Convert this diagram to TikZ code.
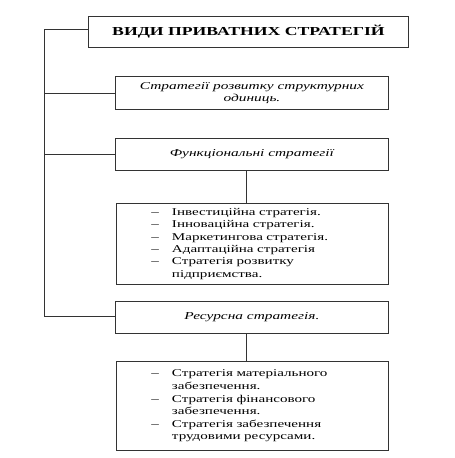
\documentclass[tikz,border=0pt]{standalone}
\usepackage{fontspec}
\setmainfont[FakeStretch=1.45]{Liberation Serif}
\begin{document}
\begin{tikzpicture}[x=1pt,y=-1pt,
  box/.style={draw=black!80,line width=0.9pt,minimum width=273pt,inner sep=2pt,align=center},
  listbox/.style={draw=black!80,line width=0.9pt,minimum width=272pt,text width=262pt,inner sep=3pt,align=left},
  conn/.style={draw=black!80,line width=0.8pt}]
\useasboundingbox (0,0) rectangle (455,458);
\node[box,minimum width=320pt,minimum height=31pt,anchor=north west,font=\bfseries\fontsize{12.2}{14}\selectfont] (t) at (88,16) {ВИДИ ПРИВАТНИХ СТРАТЕГІЙ};
\node[box,minimum height=33pt,anchor=north west,font=\itshape\fontsize{10.6}{12}\selectfont] (s1) at (115,76) {Стратегії розвитку структурних\\одиниць.};
\node[box,minimum height=32pt,anchor=north west,font=\itshape\fontsize{10.6}{12}\selectfont] (s2) at (115,138) {Функціональні стратегії};
\node[listbox,minimum height=81pt,anchor=north west,font=\fontsize{10.4}{12.3}\selectfont] (l1) at (116,203) {%
\begin{tabular}{@{\hspace{30pt}}l@{\hspace{13pt}}l@{}}
–&Інвестиційна стратегія.\\
–&Інноваційна стратегія.\\
–&Маркетингова стратегія.\\
–&Адаптаційна стратегія\\
–&Стратегія розвитку\\
 &підприємства.
\end{tabular}};
\node[box,minimum height=32pt,anchor=north west,font=\itshape\fontsize{10.6}{12}\selectfont] (s3) at (115,301) {Ресурсна стратегія.};
\node[listbox,minimum height=89pt,anchor=north west,font=\fontsize{10.4}{12.6}\selectfont] (l2) at (116,361) {%
\begin{tabular}{@{\hspace{30pt}}l@{\hspace{13pt}}l@{}}
–&Стратегія матеріального\\
 &забезпечення.\\
–&Стратегія фінансового\\
 &забезпечення.\\
–&Стратегія забезпечення\\
 &трудовими ресурсами.
\end{tabular}};
\coordinate (c0) at (44,29);
\coordinate (c3) at (44,316);
\draw[conn] (t.west |- c0) -- (c0) -- (c3) -- (s3.west |- c3);
\draw[conn] (44,93) -- (s1.west |- 0,93);
\draw[conn] (44,154) -- (s2.west |- 0,154);
\draw[conn] (s2.south -| 246,0) -- (l1.north -| 246,0);
\draw[conn] (s3.south -| 246,0) -- (l2.north -| 246,0);
\end{tikzpicture}
\end{document}
